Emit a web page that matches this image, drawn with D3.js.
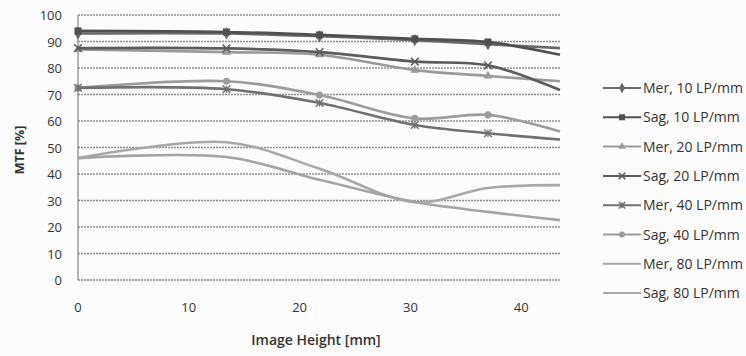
<!DOCTYPE html>
<html>
<head>
<meta charset="utf-8">
<script src="https://cdn.jsdelivr.net/npm/d3@7"></script>
<style>
  body { margin: 0; background: #fcfcfc; }
  svg { display: block; font-family: "Open Sans", sans-serif; }
</style>
</head>
<body>
<svg></svg>
<script>
// Data
const heights = [0, 13.4, 21.8, 30.4, 37, 43.5];
const yTicks = [0, 10, 20, 30, 40, 50, 60, 70, 80, 90, 100];
const xTicks = [0, 10, 20, 30, 40];

const mer10 = [93, 93, 92, 90.5, 89, 87.5];
const sag10 = [94, 93.6, 92.5, 91, 89.8, 85];
const mer20 = [87, 86, 85, 79.2, 77, 75];
const sag20 = [87.5, 87.4, 86, 82.4, 81, 71.7];
const mer40 = [72.5, 72, 66.8, 58.5, 55.4, 53];
const sag40 = [72.5, 75, 69.8, 61, 62.3, 56];
const mer80 = [46, 46.4, 37.8, 29.4, 25.7, 22.6];
const sag80 = [46, 52, 42, 29.4, 34.7, 35.8];

const series = [
    { name: "Mer, 10 LP/mm", values: mer10, color: "#6a6a6a", marker: "diamond" },
    { name: "Sag, 10 LP/mm", values: sag10, color: "#505050", marker: "square" },
    { name: "Mer, 20 LP/mm", values: mer20, color: "#9a9a9a", marker: "triangle" },
    { name: "Sag, 20 LP/mm", values: sag20, color: "#5c5c5c", marker: "cross" },
    { name: "Mer, 40 LP/mm", values: mer40, color: "#707070", marker: "star" },
    { name: "Sag, 40 LP/mm", values: sag40, color: "#9c9c9c", marker: "circle" },
    { name: "Mer, 80 LP/mm", values: mer80, color: "#a4a4a4", marker: "plus" },
    { name: "Sag, 80 LP/mm", values: sag80, color: "#a8a8a8", marker: null }
];

const svg = d3.select("svg").attr("width", 746).attr("height", 356);
const plotLeft = 78, plotRight = 560, plotTop = 15, plotBottom = 280;

const x = d3.scaleLinear().domain([0, 43.5]).range([plotLeft, plotRight]);
const y = d3.scaleLinear().domain([0, 100]).range([plotBottom, plotTop]);

// gridlines
svg.append("g")
    .selectAll("line")
    .data(yTicks)
    .enter().append("line")
    .attr("x1", plotLeft).attr("x2", plotRight)
    .attr("y1", d => y(d)).attr("y2", d => y(d))
    .attr("stroke", "#8c8c8c")
    .attr("stroke-width", 1.3)
    .attr("stroke-dasharray", "2,1");

// y axis line
svg.append("line")
    .attr("x1", plotLeft).attr("x2", plotLeft)
    .attr("y1", plotTop).attr("y2", plotBottom)
    .attr("stroke", "#8c8c8c").attr("stroke-width", 1.3);

// tick labels
svg.append("g")
    .selectAll("text")
    .data(yTicks)
    .enter().append("text")
    .attr("x", 62).attr("y", d => y(d) + 5)
    .attr("text-anchor", "end")
    .attr("font-size", 13).attr("fill", "#333")
    .text(d => d);

svg.append("g")
    .selectAll("text")
    .data(xTicks)
    .enter().append("text")
    .attr("x", d => x(d)).attr("y", 312)
    .attr("text-anchor", "middle")
    .attr("font-size", 13).attr("fill", "#333")
    .text(d => d);

// axis titles
svg.append("text")
    .attr("transform", "translate(24,150) rotate(-90)")
    .attr("text-anchor", "middle")
    .attr("font-size", 12.5).attr("font-weight", "bold").attr("fill", "#333")
    .text("MTF [%]");

svg.append("text")
    .attr("x", 316).attr("y", 345)
    .attr("text-anchor", "middle")
    .attr("font-size", 14).attr("font-weight", 600).attr("fill", "#333")
    .text("Image Height [mm]");

// marker drawing
function drawMarker(g, type, color, size) {
    const s = size;
    if (type === "diamond") {
        g.append("path").attr("d", d3.symbol(d3.symbolDiamond, s * s * 0.9)()).attr("fill", color);
    } else if (type === "square") {
        g.append("path").attr("d", d3.symbol(d3.symbolSquare, s * s)()).attr("fill", color);
    } else if (type === "triangle") {
        g.append("path").attr("d", d3.symbol(d3.symbolTriangle, s * s * 0.7)()).attr("fill", color);
    } else if (type === "circle") {
        g.append("path").attr("d", d3.symbol(d3.symbolCircle, s * s * 0.8)()).attr("fill", color);
    } else if (type === "cross") {
        g.append("path").attr("d", d3.symbol(d3.symbolX, s * s * 0.8)())
            .attr("fill", "none").attr("stroke", color).attr("stroke-width", 1.5);
    } else if (type === "star") {
        g.append("path").attr("d", d3.symbol(d3.symbolX, s * s * 0.8)())
            .attr("fill", "none").attr("stroke", color).attr("stroke-width", 1.4);
        g.append("line").attr("x1", 0).attr("x2", 0).attr("y1", -s / 2).attr("y2", s / 2)
            .attr("stroke", color).attr("stroke-width", 1.4);
    } else if (type === "plus") {
        g.append("path").attr("d", d3.symbol(d3.symbolPlus, s * s * 0.4)()).attr("fill", color);
    }
}

const line = d3.line()
    .x((d, i) => x(heights[i]))
    .y(d => y(d))
    .curve(d3.curveCatmullRom.alpha(0.5));

// draw lines back to front (light ones first)
const order = [7, 6, 5, 4, 2, 3, 0, 1];
order.forEach(k => {
    const s = series[k];
    const g = svg.append("g");
    g.append("path")
        .datum(s.values)
        .attr("d", line)
        .attr("fill", "none")
        .attr("stroke", s.color)
        .attr("stroke-width", 2.6);
    // the last point sits on the plot edge, its marker is cut off in the original
    if (s.marker) {
        s.values.slice(0, -1).forEach((v, i) => {
            const mg = g.append("g").attr("transform", `translate(${x(heights[i])},${y(v)})`);
            drawMarker(mg, s.marker, s.color, 7);
        });
    }
});

// legend
const legend = svg.append("g");
series.forEach((s, i) => {
    const ly = 88 + i * 29.3;
    const g = legend.append("g").attr("transform", `translate(0,${ly})`);
    g.append("line")
        .attr("x1", 603).attr("x2", 641)
        .attr("stroke", s.color).attr("stroke-width", 2);
    if (s.marker) {
        const mg = g.append("g").attr("transform", "translate(622,0)");
        drawMarker(mg, s.marker, s.color, 6);
    }
    g.append("text")
        .attr("x", 643).attr("y", 5)
        .attr("font-size", 14).attr("fill", "#333")
        .text(s.name);
});
</script>
</body>
</html>
